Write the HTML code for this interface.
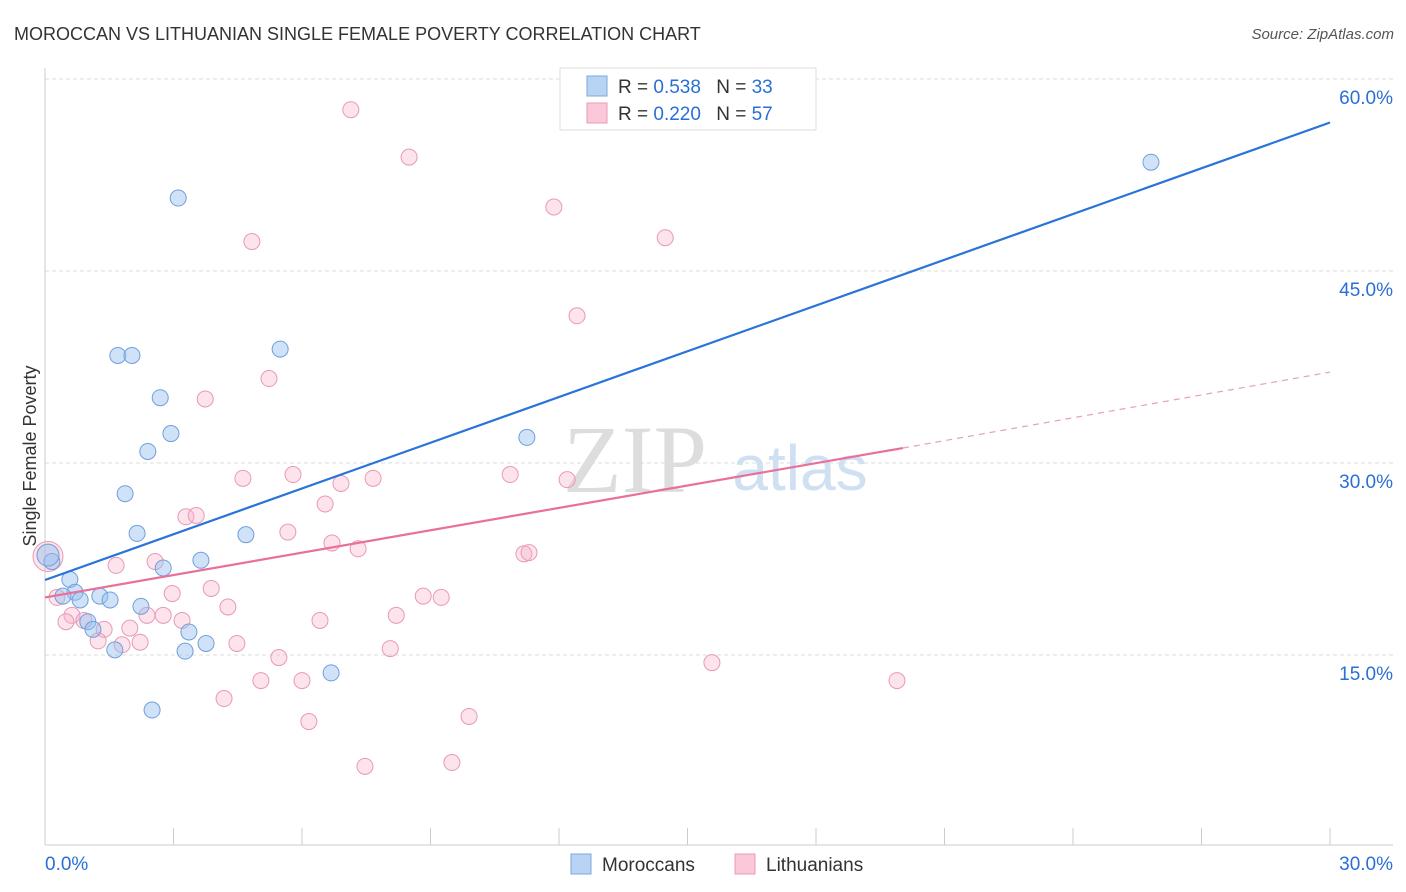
<!DOCTYPE html>
<html><head><meta charset="utf-8"><style>
body{margin:0;background:#fff;font-family:"Liberation Sans",sans-serif}
svg{display:block}
</style></head><body>
<svg id="chart" width="1406" height="892">
<text x="14" y="40" font-size="18" fill="#333">MOROCCAN VS LITHUANIAN SINGLE FEMALE POVERTY CORRELATION CHART</text>
<text x="1394" y="39" font-size="15" fill="#555" text-anchor="end" font-style="italic">Source: ZipAtlas.com</text>
<text x="36" y="456" font-size="18" fill="#333" text-anchor="middle" transform="rotate(-90 36 456)">Single Female Poverty</text>
<g id="grid"></g>
<text x="635" y="492" font-size="96" fill="#ddd" font-family="Liberation Serif" text-anchor="middle">ZIP</text>
<text x="800" y="490" font-size="64" fill="#cfe0f3" text-anchor="middle">atlas</text>
<g id="marks"></g>
<g>
<rect x="560" y="68" width="256" height="62" fill="#fff" stroke="#ddd"/>
<rect x="587" y="76" width="20" height="20" fill="#b9d3f5" stroke="#7aa8e0"/>
<rect x="587" y="103" width="20" height="20" fill="#fac8d8" stroke="#e89ab4"/>
<text x="618" y="93" font-size="19" fill="#333">R = <tspan fill="#2a6fd6">0.538</tspan>  <tspan dx="10">N = </tspan><tspan fill="#2a6fd6">33</tspan></text>
<text x="618" y="120" font-size="19" fill="#333">R = <tspan fill="#2a6fd6">0.220</tspan>  <tspan dx="10">N = </tspan><tspan fill="#2a6fd6">57</tspan></text>
</g>
<g>
<rect x="571" y="854" width="20" height="20" fill="#b9d3f5" stroke="#7aa8e0"/>
<text x="602" y="871" font-size="19" fill="#333">Moroccans</text>
<rect x="735" y="854" width="20" height="20" fill="#fac8d8" stroke="#e89ab4"/>
<text x="766" y="871" font-size="19" fill="#333">Lithuanians</text>
</g>
</svg>
<script>
const yTicks=[15,30,45,60];
const yTickLabels=["15.0%","30.0%","45.0%","60.0%"];
const xTickValues=[0,3,6,9,12,15,18,21,24,27,30];
const xEndLabels=["0.0%","30.0%"];
const blueX=[3.11,1.70,2.03,5.49,2.69,2.94,2.40,1.87,2.15,4.69,3.64,2.76,0.16,0.58,0.70,0.42,0.82,1.28,1.52,2.24,1.00,1.12,3.36,3.76,1.63,3.27,6.68,2.50,11.25,25.82,0.07];
const blueY=[50.7,38.4,38.4,38.9,35.1,32.3,30.9,27.6,24.5,24.4,22.4,21.8,22.3,20.9,19.9,19.6,19.3,19.6,19.3,18.8,17.6,17.0,16.8,15.9,15.4,15.3,13.6,10.7,32.0,53.5,22.8];
const pinkX=[7.14,8.50,11.88,4.83,14.48,12.42,5.23,3.74,4.62,5.79,6.91,7.66,10.86,12.19,6.54,3.29,3.53,5.67,6.70,7.31,11.18,11.30,2.57,1.66,0.07,3.88,2.97,8.83,9.25,0.28,4.27,2.38,2.76,8.20,0.63,0.91,3.20,6.42,0.49,1.38,1.98,1.24,1.80,2.22,4.48,8.06,5.46,15.57,5.04,6.00,19.89,4.18,9.90,6.16,7.47,9.50];
const pinkY=[57.6,53.9,50.0,47.3,47.6,41.5,36.6,35.0,28.8,29.1,28.4,28.8,29.1,28.7,26.8,25.8,25.9,24.6,23.75,23.3,22.9,23.0,22.3,22.0,22.7,20.2,19.8,19.6,19.5,19.5,18.75,18.1,18.1,18.1,18.1,17.7,17.7,17.7,17.6,17.0,17.1,16.1,15.8,16.0,15.9,15.5,14.8,14.4,13.0,13.0,13.0,11.6,10.2,9.8,6.3,6.6];
const blueLine=[[0,20.86],[30,56.6]];
const pinkLine=[[0,19.5],[20.03,31.17]];
const pinkDash=[[20.03,31.17],[30,37.1]];

const NS="http://www.w3.org/2000/svg";
const sx=v=>45+v*(1285/30);
const sy=v=>655-(v-15)*12.8;
function mk(tag,attrs,parent){const e=document.createElementNS(NS,tag);for(const k in attrs)e.setAttribute(k,attrs[k]);parent.appendChild(e);return e;}
const grid=document.getElementById('grid'),marks=document.getElementById('marks');
yTicks.forEach((t,i)=>{
  const l=mk('line',{x1:45,x2:1393,y1:sy(t),y2:sy(t),stroke:'#ddd','stroke-dasharray':'4 3'},grid);
  
  
  const tx=mk('text',{x:1393,y:sy(t)+25,'font-size':19,fill:'#2a6fd6','text-anchor':'end'},grid);
  tx.textContent=yTickLabels[i];
  
  
});
let a=mk('line',{x1:45,x2:45,y1:68,y2:845,stroke:'#ccc'},grid);


a=mk('line',{x1:45,x2:1393,y1:845,y2:845,stroke:'#ccc'},grid);


xTickValues.forEach(t=>{
  const l=mk('line',{x1:sx(t),x2:sx(t),y1:828,y2:845,stroke:'#ccc'},grid);
  
  
});
[[0,'start',xEndLabels[0]],[30,'end',xEndLabels[1]]].forEach(([v,an,lab])=>{
  const tx=mk('text',{x:v==0?sx(v):1393,y:870,'font-size':19,fill:'#2a6fd6','text-anchor':an},grid);
  tx.textContent=lab;
  
  
});
pinkX.forEach((x,i)=>{
  const c=mk('circle',{cx:sx(x),cy:sy(pinkY[i]),r:(i==24?15:8),fill:'rgba(246,176,200,0.35)',stroke:'#e89ab4','stroke-width':1},marks);
  
  
});
blueX.forEach((x,i)=>{
  const c=mk('circle',{cx:sx(x),cy:sy(blueY[i]),r:(i==30?11:8),fill:'rgba(150,190,240,0.45)',stroke:'#6f9fdc','stroke-width':1},marks);
  
  
});
function ln(p,st,w,dash,name){
  const l=mk('line',{x1:sx(p[0][0]),y1:sy(p[0][1]),x2:sx(p[1][0]),y2:sy(p[1][1]),stroke:st,'stroke-width':w},marks);
  if(dash)l.setAttribute('stroke-dasharray',dash);
  
  
}
ln(blueLine,'#2a74d9',2.2,null,'moroccan-trend-line');
ln(pinkLine,'#e8709a',2.2,null,'lithuanian-trend-line');
ln(pinkDash,'#e8a0b8',1.2,'6 5','lithuanian-trend-extension');
</script>
</body></html>
